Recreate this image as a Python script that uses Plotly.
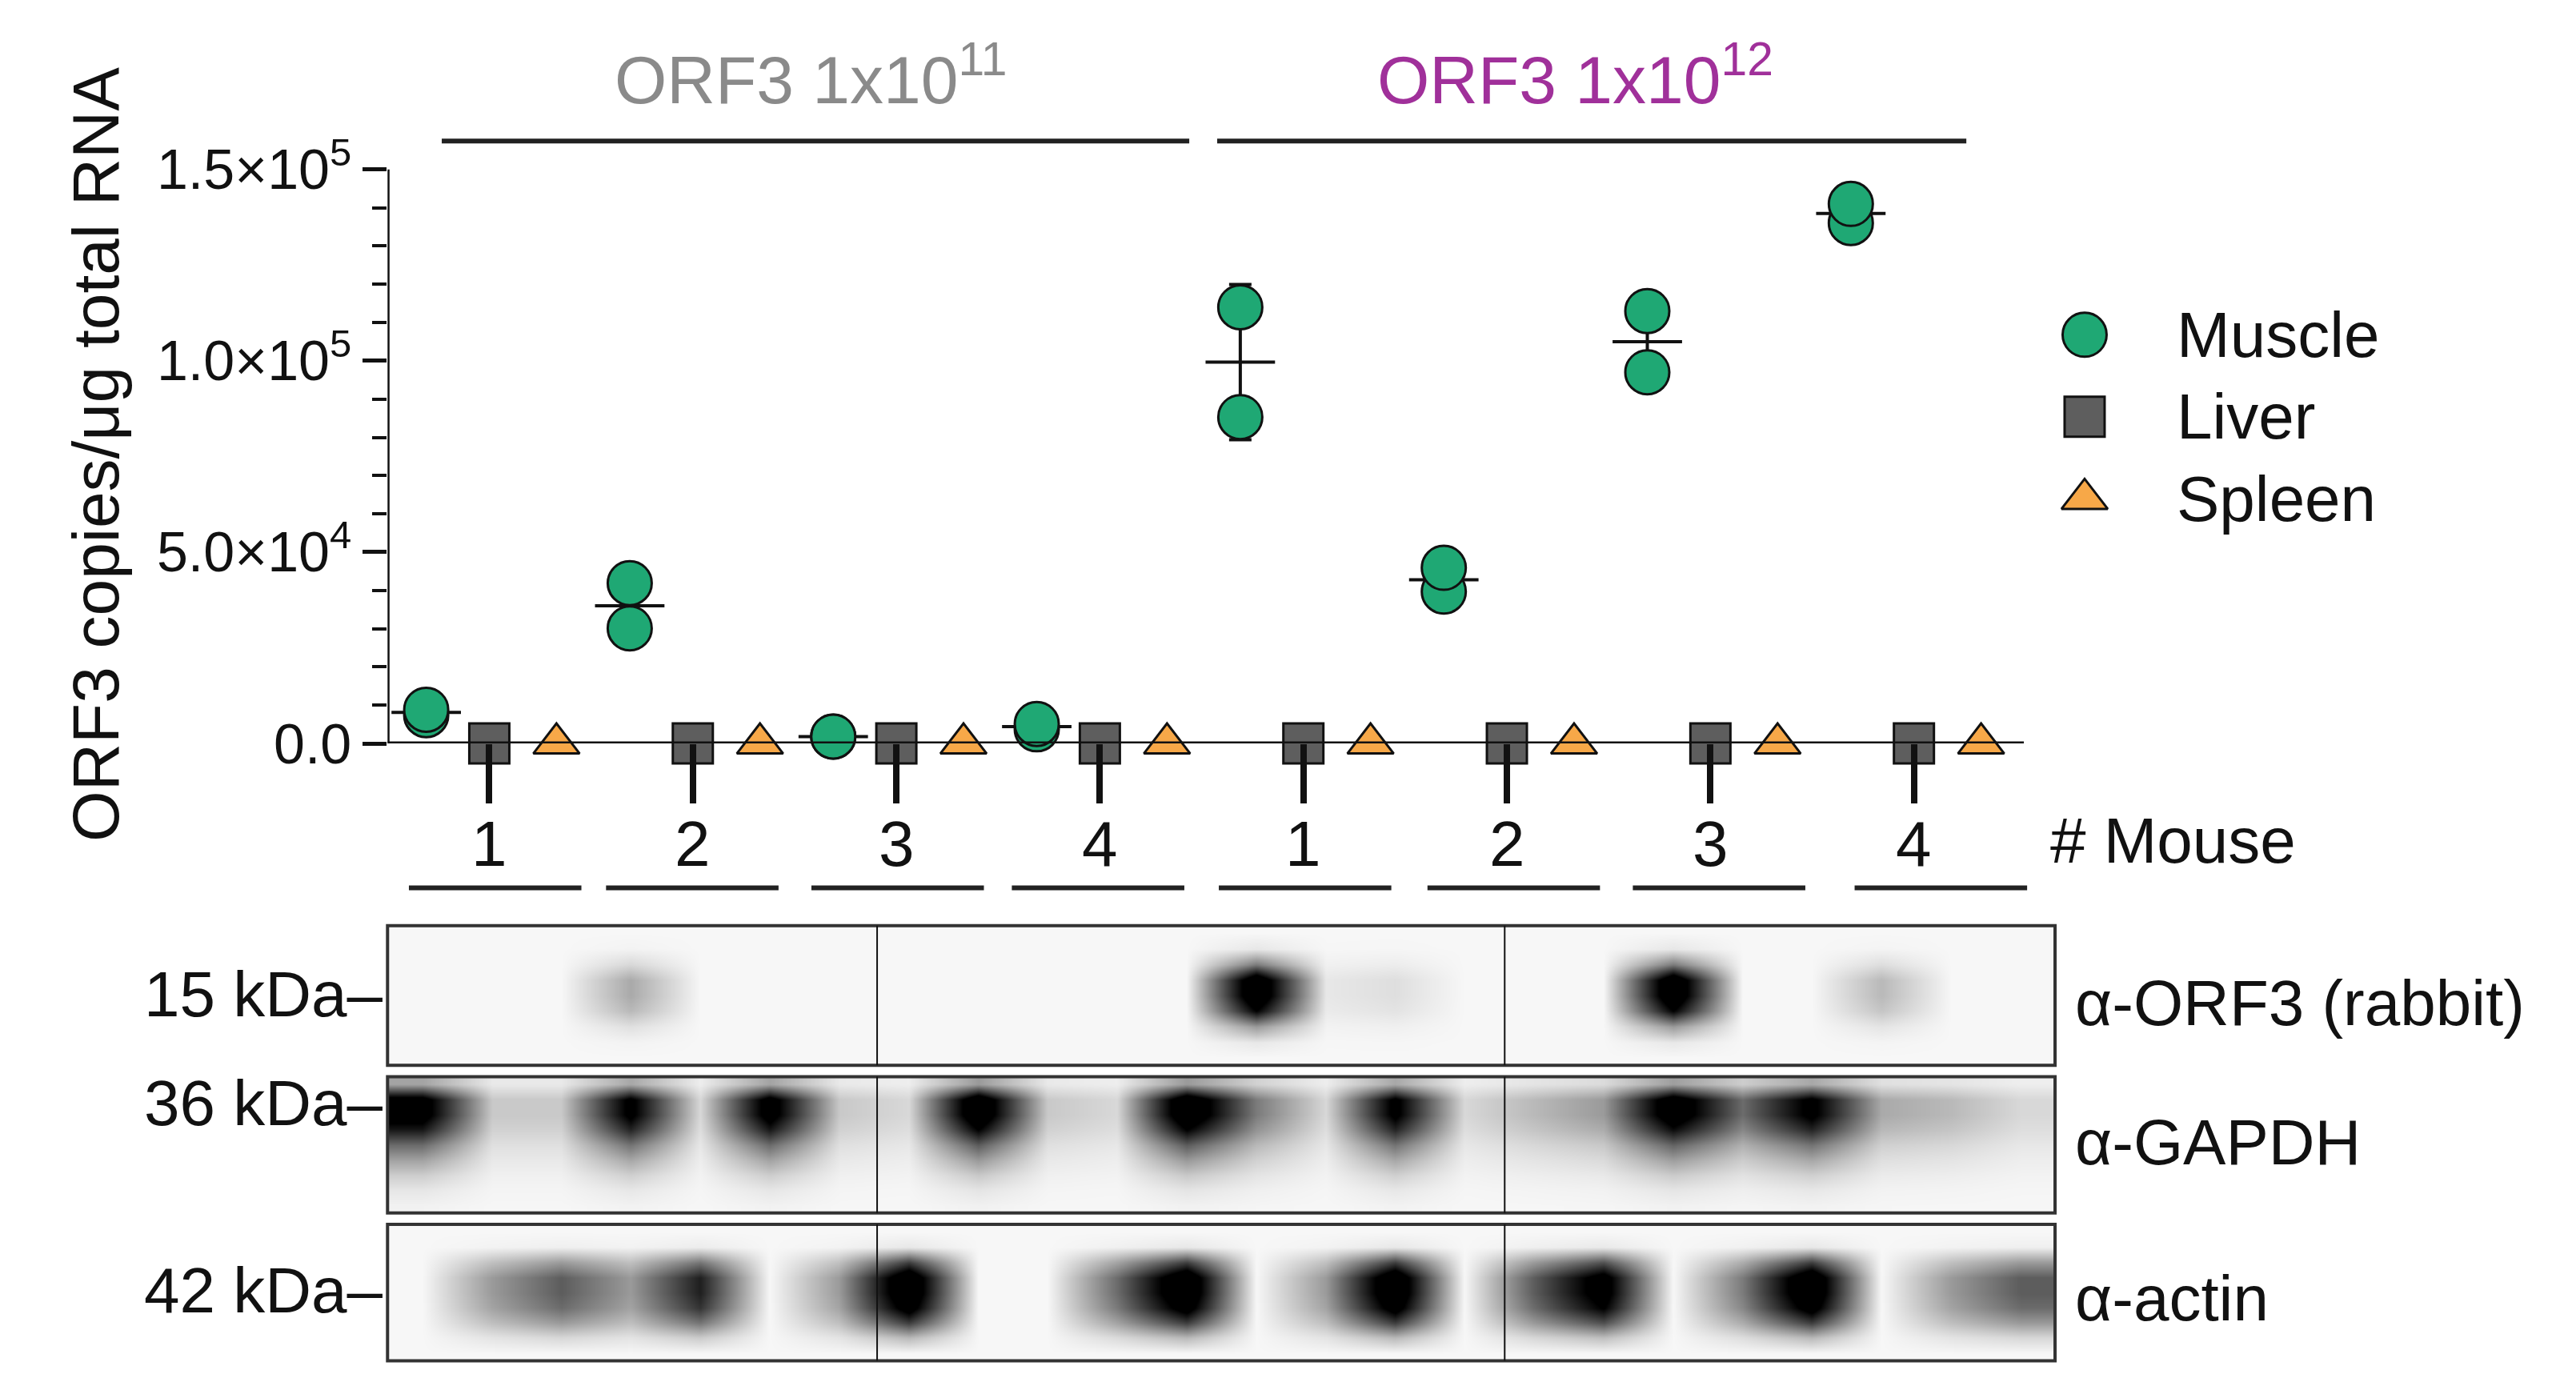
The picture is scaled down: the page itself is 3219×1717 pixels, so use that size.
import numpy as np
import plotly.graph_objects as go

# ---------------- data ----------------
mice = ["1", "2", "3", "4", "1", "2", "3", "4"]
muscle_a = [8800, 41900, 1800, 5100, 114000, 45900, 113000, 141000]
muscle_b = [7400, 30100, 1800, 3700, 85300, 39700, 97000, 136000]
liver = [0, 0, 0, 0, 0, 0, 0, 0]
spleen = [0, 0, 0, 0, 0, 0, 0, 0]
ytick_vals = [0, 50000, 100000, 150000]
ytick_text = ["0.0", "5.0×10<sup>4</sup>", "1.0×10<sup>5</sup>", "1.5×10<sup>5</sup>"]
groups = ["ORF3 1x10<sup>11</sup>", "ORF3 1x10<sup>12</sup>"]
group_colors = ["#8a8a8a", "#a0309a"]
tissues = ["Muscle", "Liver", "Spleen"]
blot_names = ["α-ORF3 (rabbit)", "α-GAPDH", "α-actin"]
blot_kda = ["15 kDa", "36 kDa", "42 kDa"]
# band intensity per lane (24 lanes)
orf3_lanes = [0, 0, 0, 0.25, 0, 0, 0, 0, 0, 0, 0, 0, 1.0, 0.05, 0.08, 0, 0, 0, 1.0, 0, 0, 0.2, 0, 0]
gapdh_lanes = [0.9, 0.15, 0.15, 0.85, 0.1, 0.9, 0.15, 0.1, 1.0, 0.15, 0.1, 1.0, 0.4, 0.1, 0.85, 0.1,
               0.2, 0.3, 0.95, 0.45, 0.85, 0.25, 0.2, 0.1]
actin_lanes = [0, 0.3, 0.5, 0.3, 0.7, 0, 0.3, 1.0, 0, 0, 0.45, 1.0, 0, 0.3, 1.0, 0,
               0.5, 0.9, 0, 0.4, 1.0, 0, 0.3, 0.5]
orf3_profile = [0, 0.05, 0.4, 1.0, 1.0, 0.8, 0.3, 0.05, 0]
gapdh_profile = [0.3, 1.0, 1.0, 0.8, 0.5, 0.3, 0.15, 0.06, 0.02]
actin_profile = [0, 0.05, 0.6, 1.0, 1.0, 0.9, 0.6, 0.2, 0]

W, H = 3219, 1717
def px(xd): return xd / 1568
def py(yd): return 1 - yd / 837

FONT = "Liberation Sans, Arial, sans-serif"
xpos = np.arange(8)
xm = xpos - 0.31
xs = xpos + 0.33

fig = go.Figure()
green, grey, orange = "#1fa874", "#5e5e5e", "#f7a848"
mark_line = dict(color="#111", width=3)
sym = ["circle", "square", "triangle-up"]
cols = [green, grey, orange]
msize = [55, 50, 50]

def note(x, y, text, size=80, color="#111", xanchor="center", xref="paper"):
    fig.add_annotation(xref=xref, yref="paper", x=x, y=y, text=text, showarrow=False,
                       xanchor=xanchor, yanchor="middle", font=dict(size=size, color=color, family=FONT))

mean = [(a + b) / 2 for a, b in zip(muscle_a, muscle_b)]
sd = [abs(a - b) / np.sqrt(2) for a, b in zip(muscle_a, muscle_b)]
fig.add_trace(go.Scatter(x=xm, y=mean, mode="markers", showlegend=False, cliponaxis=False,
                         marker=dict(symbol="line-ew-open", size=62, color="#111", line=dict(color="#111", width=4)),
                         error_y=dict(type="data", array=sd, color="#111", thickness=4, width=14)))
fig.add_trace(go.Scatter(x=list(xm) + list(xm), y=muscle_b + muscle_a, mode="markers", showlegend=False,
                         cliponaxis=False,
                         marker=dict(symbol="circle", size=msize[0], color=green, line=mark_line)))
fig.add_trace(go.Scatter(x=xpos, y=liver, mode="markers", showlegend=False, cliponaxis=False,
                         marker=dict(symbol="square", size=msize[1], color=grey, line=mark_line)))
fig.add_trace(go.Scatter(x=xs, y=spleen, mode="markers", showlegend=False, cliponaxis=False,
                         marker=dict(symbol="triangle-up", size=msize[2], color=orange, line=mark_line)))

# mouse numbers
for i, m in enumerate(mice):
    note(int(xpos[i]), py(510), m, size=80, xref="x")

# manual legend on its own axis
for i in range(3):
    fig.add_trace(go.Scatter(x=[0], y=[i], mode="markers", xaxis="x5", yaxis="y5", showlegend=False,
                             cliponaxis=False, hoverinfo="skip",
                             marker=dict(symbol=sym[i], size=msize[i], color=cols[i], opacity=1,
                                         line=mark_line)))
    note(px(1320), py([200, 250, 300][i]), tissues[i], xanchor="left")
fig.layout["xaxis5"] = dict(domain=[px(1250), px(1280)], anchor="y5", visible=False, range=[-1, 1])
fig.layout["yaxis5"] = dict(domain=[py(325), py(175)], anchor="x5", visible=False, range=[2.5, -0.5])

# blots
blots = [(orf3_lanes, orf3_profile, 560, 645), (gapdh_lanes, gapdh_profile, 652, 735),
         (actin_lanes, actin_profile, 742, 825)]
for i, (lanes, prof, y0, y1) in enumerate(blots):
    z = np.outer(prof, lanes)
    ax = str(i + 2)
    fig.add_trace(go.Heatmap(z=z, xaxis="x" + ax, yaxis="y" + ax, zmin=0, zmax=0.8, zsmooth="best",
                             colorscale=[[0, "#f7f7f7"], [1, "#000"]], showscale=False, hoverinfo="skip"))
    fig.layout["xaxis" + ax] = dict(domain=[px(232), px(1247)], anchor="y" + ax, visible=False,
                                    range=[-0.5, 23.5])
    fig.layout["yaxis" + ax] = dict(domain=[py(y1), py(y0)], anchor="x" + ax, visible=False,
                                    range=[len(prof) - 0.5, -0.5])
    fig.add_shape(type="rect", xref="paper", yref="paper", x0=px(232), x1=px(1247), y0=py(y1), y1=py(y0),
                  line=dict(color="#333", width=4))
    for xd in (530, 912):
        fig.add_shape(type="line", xref="paper", yref="paper", x0=px(xd), x1=px(xd), y0=py(y1), y1=py(y0),
                      line=dict(color="#111", width=2))
    note(px(230), py([602, 668, 782][i]), blot_kda[i] + "–", xanchor="right")
    note(px(1258), py([607, 692, 787][i]), blot_names[i], xanchor="left")

# axis lines
fig.add_shape(type="line", x0=-0.5, x1=-0.5, y0=0, y1=150000, line=dict(color="#111", width=5))
fig.add_shape(type="line", x0=-0.5, x1=7.54, y0=0, y1=0, line=dict(color="#111", width=5))

# group headers
for g, (gx0, gx1, cx) in enumerate([(265, 720, 490), (737, 1193, 955)]):
    fig.add_shape(type="line", xref="paper", yref="paper", x0=px(gx0), x1=px(gx1), y0=py(82), y1=py(82),
                  line=dict(color="#222", width=6))
    note(px(cx), py(42), groups[g], size=84, color=group_colors[g])
# mouse underlines
for a, b in [(245, 350), (365, 470), (490, 595), (612, 717), (738, 843), (865, 970), (990, 1095), (1125, 1230)]:
    fig.add_shape(type="line", xref="paper", yref="paper", x0=px(a), x1=px(b), y0=py(537), y1=py(537),
                  line=dict(color="#222", width=6))
note(px(1243), py(508), "# Mouse", xanchor="left")

fig.update_layout(
    width=W, height=H, margin=dict(l=0, r=0, t=0, b=0, autoexpand=False),
    paper_bgcolor="white", plot_bgcolor="white", showlegend=False,
    font=dict(family=FONT, color="#111"),
    xaxis=dict(domain=[px(232), px(1228)], range=[-0.5, 7.54], tickvals=list(xpos), showticklabels=False,
               showline=False, showgrid=False, zeroline=False, ticks="outside", ticklen=74, tickwidth=8,
               tickcolor="#111"),
    yaxis=dict(domain=[py(449), py(97)], range=[0, 151000], tickvals=ytick_vals, ticktext=ytick_text,
               showline=False, showgrid=False, zeroline=False, ticks="outside", ticklen=30, tickwidth=5,
               tickcolor="#111", tickfont=dict(size=70, color="#111"),
               minor=dict(dtick=10000, ticks="outside", ticklen=18, tickwidth=4, tickcolor="#111", showgrid=False),
               title=dict(text="ORF3 copies/μg total RNA", font=dict(size=82, color="#111"), standoff=20)),
)
fig.write_html("out.html")
